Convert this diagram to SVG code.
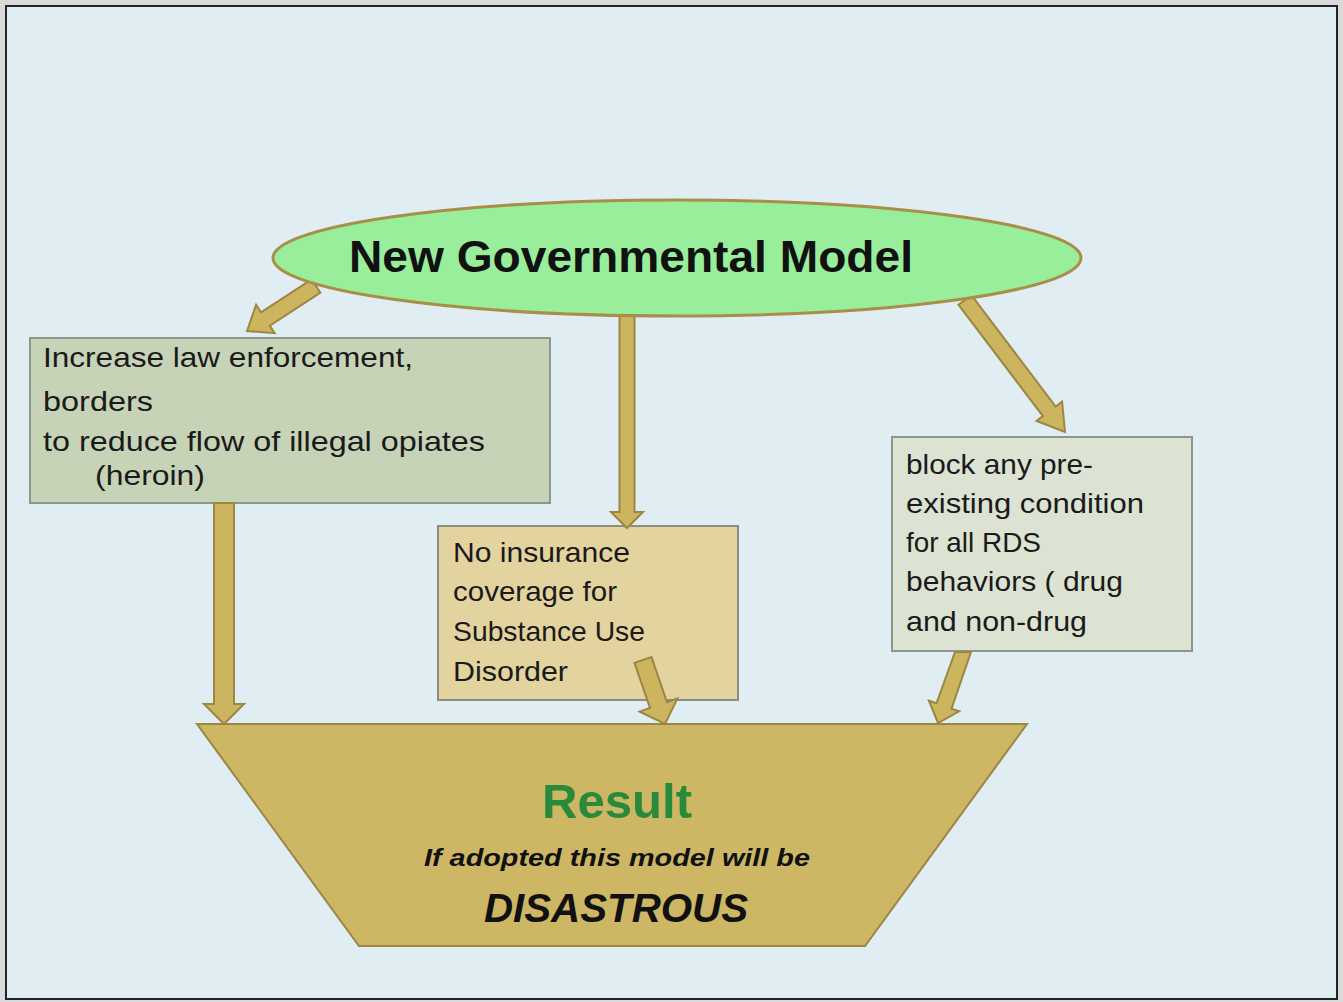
<svg xmlns="http://www.w3.org/2000/svg" width="1343" height="1002" viewBox="0 0 1343 1002">
<style>
.t{font-family:"Liberation Sans","Noto Sans",Arial,sans-serif;font-size:28px;fill:#1a1a1a}
.arr{fill:#CDB55F;stroke:#9C8643;stroke-width:2;stroke-linejoin:miter}
</style>
<rect x="0" y="0" width="1343" height="1002" fill="#D9D9D9"/>
<rect x="6" y="6" width="1331" height="993" fill="#E0EDF3" stroke="#222" stroke-width="2"/>
<g id="box1">
<rect x="30" y="338" width="520" height="165" fill="#C7D3B7" stroke="#8E978A" stroke-width="2"/>
<text class="t" x="43" y="367" textLength="370" lengthAdjust="spacingAndGlyphs">Increase law enforcement,</text>
<text class="t" x="43" y="411" textLength="110" lengthAdjust="spacingAndGlyphs">borders</text>
<text class="t" x="43" y="451" textLength="442" lengthAdjust="spacingAndGlyphs">to reduce flow of illegal opiates</text>
<text class="t" x="95" y="485" textLength="110" lengthAdjust="spacingAndGlyphs">(heroin)</text>
</g>
<g id="box2">
<rect x="438" y="526" width="300" height="174" fill="#E3D39F" stroke="#8E8C7C" stroke-width="2"/>
<text class="t" x="453" y="562" textLength="177" lengthAdjust="spacingAndGlyphs">No insurance</text>
<text class="t" x="453" y="601" textLength="164" lengthAdjust="spacingAndGlyphs">coverage for</text>
<text class="t" x="453" y="641" textLength="192" lengthAdjust="spacingAndGlyphs">Substance Use</text>
<text class="t" x="453" y="681" textLength="115" lengthAdjust="spacingAndGlyphs">Disorder</text>
</g>
<g id="box3">
<rect x="892" y="437" width="300" height="214" fill="#DCE3D3" stroke="#8E958C" stroke-width="2"/>
<text class="t" x="906" y="474" textLength="187" lengthAdjust="spacingAndGlyphs">block any pre-</text>
<text class="t" x="906" y="513" textLength="238" lengthAdjust="spacingAndGlyphs">existing condition</text>
<text class="t" x="906" y="552" textLength="135" lengthAdjust="spacingAndGlyphs">for all RDS</text>
<text class="t" x="906" y="591" textLength="217" lengthAdjust="spacingAndGlyphs">behaviors ( drug</text>
<text class="t" x="906" y="631" textLength="181" lengthAdjust="spacingAndGlyphs">and non-drug</text>
</g>
<g id="result">
<polygon points="197,724 1027,724 865,946 359,946" fill="#CDB664" stroke="#9C8643" stroke-width="2"/>
<text x="617" y="818" text-anchor="middle" textLength="150" lengthAdjust="spacingAndGlyphs" style="font-family:'Liberation Sans',Arial,sans-serif;font-size:48px;font-weight:bold;fill:#2A8A3C">Result</text>
<text x="617" y="866" text-anchor="middle" textLength="386" lengthAdjust="spacingAndGlyphs" style="font-family:'Liberation Sans',Arial,sans-serif;font-size:24px;font-weight:bold;font-style:italic;fill:#111">If adopted this model will be</text>
<text x="616" y="922" text-anchor="middle" textLength="264" lengthAdjust="spacingAndGlyphs" style="font-family:'Liberation Sans',Arial,sans-serif;font-size:40px;font-weight:bold;font-style:italic;fill:#111">DISASTROUS</text>
</g>
<g id="connectors">
<polygon class="arr" points="320.4,292.7 269.8,325.7 274.7,333.2 247,331 256.1,304.8 261.0,312.3 311.6,279.3"/>
<polygon class="arr" points="214,503 234,503 234,704 244,704 224,724 204,704 214,704"/>
<polygon class="arr" points="619.5,316 634.5,316 634.5,512 643,512 627,528 611,512 619.5,512"/>
<polygon class="arr" points="958.6,304.8 1042.9,416.1 1036.5,421.0 1065,432 1062.1,401.6 1055.7,406.5 971.4,295.2"/>
<polygon class="arr" points="634.5,662.9 650.0,708.0 639.6,711.6 665,724 677.4,698.6 667.0,702.2 651.5,657.1"/>
<polygon class="arr" points="971,652 951.5,708.7 959.1,711.3 938,723 928.9,700.7 936.5,703.3 955,652"/>
</g>
<g id="model">
<ellipse cx="677" cy="258" rx="404" ry="58" fill="#98EE9A" stroke="#A88E48" stroke-width="3"/>
<text x="631" y="272" text-anchor="middle" textLength="564" lengthAdjust="spacingAndGlyphs" style="font-family:'Liberation Sans',Arial,sans-serif;font-size:44px;font-weight:bold;fill:#111">New Governmental Model</text>
</g>
</svg>
